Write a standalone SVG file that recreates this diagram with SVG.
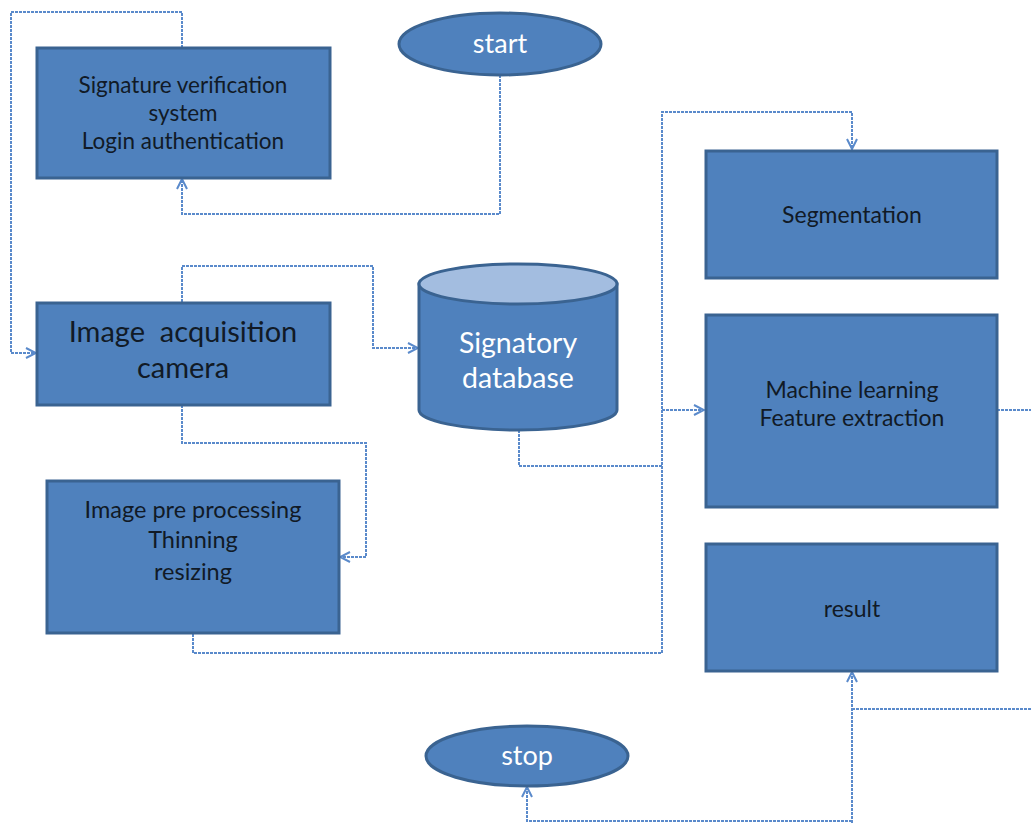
<svg xmlns="http://www.w3.org/2000/svg" width="1031" height="823" viewBox="0 0 1031 823">
<style>
.box{fill:#4F81BD;stroke:#3A6391;stroke-width:3}
.lt{font-family:Lato,"Open Sans","Liberation Sans",sans-serif;fill:#111a26;text-anchor:middle}
.wt{font-family:Lato,"Open Sans","Liberation Sans",sans-serif;fill:#ffffff;text-anchor:middle}
.con{fill:none;stroke:#5A8ACB;stroke-width:2;stroke-dasharray:3 1}
</style>
<defs>
<marker id="arr" viewBox="0 0 12 12" refX="11" refY="6" markerWidth="12" markerHeight="12" markerUnits="userSpaceOnUse" orient="auto">
<path d="M1,1 L11,6 L1,11" fill="none" stroke="#5A8ACB" stroke-width="2"/>
</marker>
</defs>
<rect width="1031" height="823" fill="#ffffff"/>
<g id="connectors">
<path class="con" d="M182,48 V12 H11 V353 H36" marker-end="url(#arr)"/>
<path class="con" d="M500,75 V214 H182 V179" marker-end="url(#arr)"/>
<path class="con" d="M182,302 V266 H373 V348 H418" marker-end="url(#arr)"/>
<path class="con" d="M182,405 V443 H366 V557 H340" marker-end="url(#arr)"/>
<path class="con" d="M519,430 V466 H662"/>
<path class="con" d="M193,634 V653 H662 V112 H852 V149" marker-end="url(#arr)"/>
<path class="con" d="M662,410 H704" marker-end="url(#arr)"/>
<path class="con" d="M997,410 H1031"/>
<path class="con" d="M1031,709 H852"/>
<path class="con" d="M852,823 V672" marker-end="url(#arr)"/>
<path class="con" d="M852,821 H527 V787" marker-end="url(#arr)"/>
</g>
<g id="start">
<ellipse cx="500" cy="44" rx="101" ry="31" class="box"/>
<text x="500" y="53" class="wt" font-size="27">start</text>
</g>
<g id="sigver">
<rect x="37" y="48" width="293" height="130" class="box"/>
<text x="183" y="93" class="lt" font-size="22.5">Signature verification</text>
<text x="183" y="121" class="lt" font-size="22.5">system</text>
<text x="183" y="149" class="lt" font-size="22.5">Login authentication</text>
</g>
<g id="acq">
<rect x="37" y="303" width="293" height="102" class="box"/>
<text x="183" y="342" class="lt" font-size="29" xml:space="preserve">Image  acquisition</text>
<text x="183" y="378" class="lt" font-size="29">camera</text>
</g>
<g id="db">
<path d="M419,284 V410 A99,20 0 0 0 617,410 V284 Z" class="box"/>
<ellipse cx="518" cy="284" rx="99" ry="20" fill="#A3BDE0" stroke="#3A6391" stroke-width="3"/>
<text x="518" y="353" class="wt" font-size="28.5">Signatory</text>
<text x="518" y="388" class="wt" font-size="28.5">database</text>
</g>
<g id="pre">
<rect x="47" y="481" width="292" height="152" class="box"/>
<text x="193" y="518" class="lt" font-size="23.5">Image pre processing</text>
<text x="193" y="548" class="lt" font-size="23.5">Thinning</text>
<text x="193" y="580" class="lt" font-size="23.5">resizing</text>
</g>
<g id="seg">
<rect x="706" y="151" width="291" height="127" class="box"/>
<text x="852" y="223" class="lt" font-size="23">Segmentation</text>
</g>
<g id="ml">
<rect x="706" y="315" width="291" height="192" class="box"/>
<text x="852" y="398" class="lt" font-size="23">Machine learning</text>
<text x="852" y="426" class="lt" font-size="23">Feature extraction</text>
</g>
<g id="result">
<rect x="706" y="544" width="291" height="127" class="box"/>
<text x="852" y="617" class="lt" font-size="23">result</text>
</g>
<g id="stop">
<ellipse cx="527" cy="756" rx="101" ry="30" class="box"/>
<text x="527" y="765" class="wt" font-size="27">stop</text>
</g>
</svg>
